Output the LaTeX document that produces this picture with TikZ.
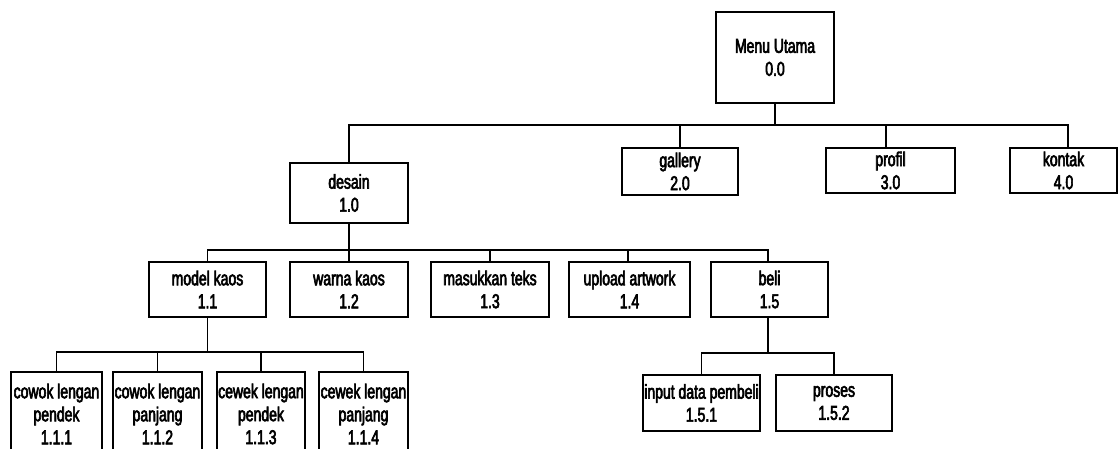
\documentclass[tikz,border=0pt]{standalone}
\usepackage{fontspec}
\setmainfont[FakeStretch=0.7,FakeBold=3]{Liberation Sans}
\begin{document}
\begin{tikzpicture}[x=1pt,y=-1pt,
  box/.style={draw,line width=1.2pt,align=center,inner sep=0pt,
    font=\fontsize{20}{23}\selectfont},
  conn/.style={line width=1.2pt}]
\clip (0,0) rectangle (1118,448);
\fill[white] (0,0) rectangle (1118,448);
% level 0
\node[box,minimum width=118,minimum height=91] (m0) at (775,57.5) {Menu Utama\\0.0};
% level 1
\node[box,minimum width=118,minimum height=60] (d1) at (349,193) {desain\\1.0};
\node[box,minimum width=116,minimum height=47] (g2) at (680,171.5) {gallery\\2.0};
\node[box,minimum width=129,minimum height=45] (p3) at (890.5,170.5) {profil\\3.0};
\node[box,minimum width=107,minimum height=45] (k4) at (1063.5,170.5) {kontak\\4.0};
% level 2
\node[box,minimum width=117,minimum height=55] (m11) at (207.5,289.5) {model kaos\\1.1};
\node[box,minimum width=118,minimum height=55] (w12) at (349,289.5) {warna kaos\\1.2};
\node[box,minimum width=118,minimum height=55] (t13) at (490,289.5) {masukkan teks\\1.3};
\node[box,minimum width=121,minimum height=55] (u14) at (629.5,289.5) {upload artwork\\1.4};
\node[box,minimum width=117,minimum height=55] (b15) at (769.5,289.5) {beli\\1.5};
% level 3
\node[box,minimum width=91,minimum height=84] (c111) at (56.5,414) {cowok lengan\\pendek\\1.1.1};
\node[box,minimum width=89,minimum height=84] (c112) at (157.5,414) {cowok lengan\\panjang\\1.1.2};
\node[box,minimum width=88,minimum height=84] (c113) at (261,414) {cewek lengan\\pendek\\1.1.3};
\node[box,minimum width=89,minimum height=84] (c114) at (363.5,414) {cewek lengan\\panjang\\1.1.4};
\node[box,minimum width=117,minimum height=56] (i151) at (701.5,403) {input data pembeli\\1.5.1};
\node[box,minimum width=116,minimum height=56] (p152) at (834,403) {proses\\1.5.2};
% connectors
\coordinate (bus0) at (775,125);
\draw[conn] (m0.south) -- (bus0);
\draw[conn] (bus0) -| (d1.north);
\draw[conn] (bus0) -| (g2.north);
\draw[conn] (bus0) -| ([xshift=-4.5pt]p3.north);
\draw[conn] (bus0) -| ([xshift=4.5pt]k4.north);
\coordinate (bus1) at (349,250);
\draw[conn] (d1.south) -- (w12.north);
\draw[conn] (bus1) -| (m11.north);
\draw[conn] (bus1) -| (t13.north);
\draw[conn] (bus1) -| ([xshift=-1.5pt]u14.north);
\draw[conn] (bus1) -| ([xshift=-1.5pt]b15.north);
\coordinate (bus2) at (207.5,352);
\draw[conn] (m11.south) -- (bus2);
\draw[conn] (bus2) -| (c111.north);
\draw[conn] (bus2) -| (c112.north);
\draw[conn] (bus2) -| (c113.north);
\draw[conn] (bus2) -| (c114.north);
\coordinate (bus3) at (768,353);
\draw[conn] ([xshift=-1.5pt]b15.south) -- (bus3);
\draw[conn] (bus3) -| (i151.north);
\draw[conn] (bus3) -| (p152.north);
\end{tikzpicture}
\end{document}
